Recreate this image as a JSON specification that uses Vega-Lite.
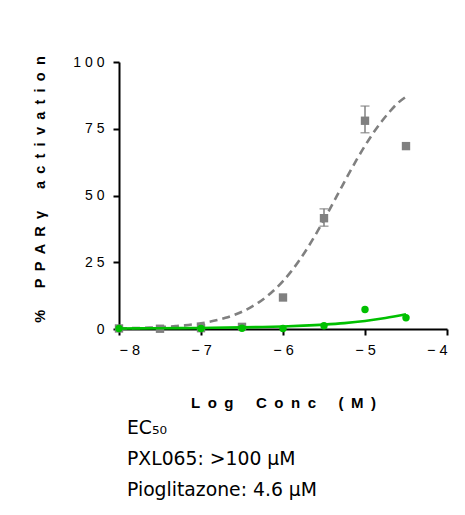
{
  "$schema": "https://vega.github.io/schema/vega-lite/v6.json",
  "width": 328,
  "height": 267,
  "autosize": {"type": "none"},
  "padding": {"left": 119, "top": 62, "right": 18, "bottom": 186},
  "background": "white",
  "config": {
    "view": {"stroke": null},
    "axis": {"labelFont": "Liberation Sans", "titleFont": "Liberation Sans", "grid": false, "domainColor": "black", "tickColor": "black", "labelColor": "black", "titleColor": "black", "domainWidth": 2, "tickWidth": 2, "tickSize": 6}
  },
  "title": {
    "text": ["EC₅₀", "PXL065: >100 µM", "Pioglitazone: 4.6 µM"],
    "orient": "bottom",
    "anchor": "start",
    "frame": "group",
    "dx": 8,
    "offset": 8,
    "font": "DejaVu Sans",
    "fontSize": 18.8,
    "fontWeight": "normal",
    "lineHeight": 31,
    "color": "black"
  },
  "datasets": {
    "pio_fit": [
      {"x": -8.0, "y": 0.22}, {"x": -7.9, "y": 0.28}, {"x": -7.8, "y": 0.35}, {"x": -7.7, "y": 0.44},
      {"x": -7.6, "y": 0.55}, {"x": -7.5, "y": 0.69}, {"x": -7.4, "y": 0.86}, {"x": -7.3, "y": 1.09},
      {"x": -7.2, "y": 1.36}, {"x": -7.1, "y": 1.71}, {"x": -7.0, "y": 2.14}, {"x": -6.9, "y": 2.68},
      {"x": -6.8, "y": 3.35}, {"x": -6.7, "y": 4.18}, {"x": -6.6, "y": 5.21}, {"x": -6.5, "y": 6.47},
      {"x": -6.4, "y": 8.01}, {"x": -6.3, "y": 9.88}, {"x": -6.2, "y": 12.13}, {"x": -6.1, "y": 14.81},
      {"x": -6.0, "y": 17.95}, {"x": -5.9, "y": 21.59}, {"x": -5.8, "y": 25.75}, {"x": -5.7, "y": 30.39},
      {"x": -5.6, "y": 35.46}, {"x": -5.5, "y": 40.9}, {"x": -5.4, "y": 46.55}, {"x": -5.3, "y": 52.3},
      {"x": -5.2, "y": 58.0}, {"x": -5.1, "y": 63.49}, {"x": -5.0, "y": 68.63}, {"x": -4.9, "y": 73.37},
      {"x": -4.8, "y": 77.61}, {"x": -4.7, "y": 81.36}, {"x": -4.6, "y": 84.61}, {"x": -4.5, "y": 87.0}
    ],
    "pxl_fit": [
      {"x": -8.0, "y": 0.2}, {"x": -7.5, "y": 0.3}, {"x": -7.0, "y": 0.4}, {"x": -6.5, "y": 0.6},
      {"x": -6.25, "y": 0.75}, {"x": -6.0, "y": 0.95}, {"x": -5.75, "y": 1.25}, {"x": -5.5, "y": 1.65},
      {"x": -5.25, "y": 2.2}, {"x": -5.0, "y": 3.0}, {"x": -4.75, "y": 4.1}, {"x": -4.5, "y": 5.5}
    ],
    "pio_pts": [
      {"x": -8.0, "y": 0.2}, {"x": -7.5, "y": 0.1}, {"x": -7.0, "y": 0.3}, {"x": -6.5, "y": 0.8},
      {"x": -6.0, "y": 11.8}, {"x": -5.5, "y": 41.5}, {"x": -5.0, "y": 78.0}, {"x": -4.5, "y": 68.5}
    ],
    "pio_err": [
      {"x": -5.5, "y": 38.5, "y2": 45.0},
      {"x": -5.0, "y": 73.5, "y2": 83.5}
    ],
    "pxl_pts": [
      {"x": -8.0, "y": 0.2}, {"x": -7.0, "y": 0.2}, {"x": -6.5, "y": 0.3}, {"x": -6.0, "y": 0.2},
      {"x": -5.5, "y": 1.2}, {"x": -5.0, "y": 7.3}, {"x": -4.5, "y": 4.2}
    ]
  },
  "encoding": {
    "x": {"field": "x", "type": "quantitative", "scale": {"domain": [-8, -4], "nice": false},
      "axis": {"values": [-8, -7, -6, -5, -4], "format": "d", "labelExpr": "join(split(datum.label, ''), ' ')", "labelFontSize": 14.5, "labelPadding": 8,
        "title": "L\u2002o\u2002g\u2002\u2002\u2002C\u2002o\u2002n\u2002c\u2002\u2002\u2002(\u2002M\u2002)", "titleFontSize": 15, "titleFontWeight": "bold", "titlePadding": 39}},
    "y": {"field": "y", "type": "quantitative", "scale": {"domain": [0, 100], "nice": false},
      "axis": {"values": [0, 25, 50, 75, 100], "labelExpr": "join(split(datum.label, ''), ' ')", "labelFontSize": 14, "labelPadding": 9,
        "title": "%\u2002\u2002\u2002P\u2002P\u2002A\u2002R\u2002γ\u2002\u2002\u2002a\u2002c\u2002t\u2002i\u2002v\u2002a\u2002t\u2002i\u2002o\u2002n", "titleFontSize": 14.5, "titleFontWeight": "bold", "titlePadding": 25, "titleY": 127}}
  },
  "layer": [
    {
      "data": {"name": "pio_fit"},
      "mark": {"type": "line", "color": "#808080", "strokeWidth": 2.6, "strokeDash": [8, 5], "interpolate": "monotone"}
    },
    {
      "data": {"name": "pio_err"},
      "mark": {"type": "errorbar", "color": "#808080", "thickness": 1.5, "ticks": {"size": 9, "thickness": 1.5, "color": "#808080"}},
      "encoding": {
        "y2": {"field": "y2"}
      }
    },
    {
      "data": {"name": "pio_pts"},
      "mark": {"type": "point", "shape": "square", "filled": true, "color": "#808080", "size": 70, "opacity": 1}
    },
    {
      "data": {"name": "pxl_fit"},
      "mark": {"type": "line", "color": "#00c000", "strokeWidth": 2.6, "interpolate": "monotone"}
    },
    {
      "data": {"name": "pxl_pts"},
      "mark": {"type": "point", "shape": "circle", "filled": true, "color": "#00c000", "size": 55, "opacity": 1}
    }
  ]
}
